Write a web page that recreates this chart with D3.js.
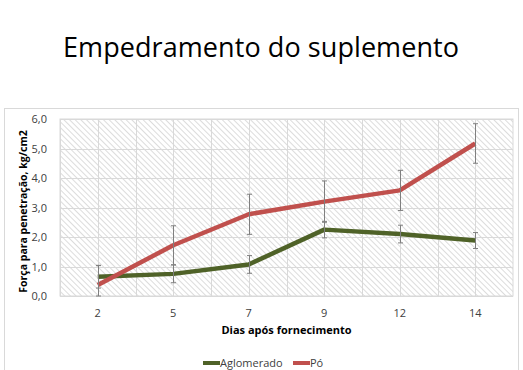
<!DOCTYPE html>
<html>
<head>
<meta charset="utf-8">
<script src="https://cdn.jsdelivr.net/npm/d3@7"></script>
<style>
  body { margin: 0; background: #fff; }
  svg { display: block; font-family: 'Open Sans', 'Noto Sans', sans-serif; }
</style>
</head>
<body>
<svg id="chart" width="523" height="370"></svg>
<script>
const days = ['2', '5', '7', '9', '12', '14'];
const aglomerado = [0.65, 0.75, 1.07, 2.25, 2.1, 1.88];
const aglomeradoErr = [0.38, 0.3, 0.3, 0.28, 0.3, 0.27];
const po = [0.37, 1.72, 2.77, 3.2, 3.58, 5.17];
const poErr = [0.67, 0.66, 0.68, 0.7, 0.68, 0.67];
const yTicks = [0, 1, 2, 3, 4, 5, 6];

const series = [
  { name: 'Aglomerado', values: aglomerado, err: aglomeradoErr, color: '#4f6228' },
  { name: 'Pó', values: po, err: poErr, color: '#c0504d' },
];

const svg = d3.select('#chart');
const W = 523, H = 370;
const m = { left: 60, right: 10, top: 119, bottom: 74 };

// moldura do gráfico
svg.append('rect')
  .attr('x', 4.5).attr('y', 108.5).attr('width', 514).attr('height', 280)
  .attr('fill', 'none').attr('stroke', '#d9d9d9');

svg.append('text')
  .attr('x', 261).attr('y', 57)
  .attr('text-anchor', 'middle')
  .attr('font-size', 27)
  .attr('textLength', 396)
  .attr('fill', '#000')
  .text('Empedramento  do suplemento');

const x = d3.scaleBand().domain(days).range([m.left, W - m.right]);
const y = d3.scaleLinear().domain([0, 6]).range([H - m.bottom, m.top]);

const defs = svg.append('defs');
const pat = defs.append('pattern')
  .attr('id', 'hatch')
  .attr('patternUnits', 'userSpaceOnUse')
  .attr('width', 4).attr('height', 4)
  .attr('patternTransform', 'rotate(-45)');
pat.append('rect').attr('width', 4).attr('height', 4).attr('fill', '#fff');
pat.append('line').attr('x1', 0).attr('y1', 0).attr('x2', 0).attr('y2', 4)
  .attr('stroke', '#d4d4d4').attr('stroke-width', 1.6);

svg.append('rect')
  .attr('x', m.left).attr('y', m.top)
  .attr('width', W - m.right - m.left).attr('height', y(0) - m.top)
  .attr('fill', 'url(#hatch)')
  .attr('stroke', '#d9d9d9');

// grades
const grid = svg.append('g').attr('stroke', '#d9d9d9').attr('stroke-width', 1);
grid.selectAll('line.h').data(yTicks).join('line')
  .attr('x1', m.left).attr('x2', W - m.right)
  .attr('y1', d => Math.round(y(d)) + 0.5).attr('y2', d => Math.round(y(d)) + 0.5);
const vx = [];
days.forEach(d => { vx.push(x(d)); vx.push(x(d) + x.bandwidth() / 2); });
grid.selectAll('line.v').data(vx).join('line')
  .attr('y1', m.top).attr('y2', y(0))
  .attr('x1', d => Math.round(d) + 0.5).attr('x2', d => Math.round(d) + 0.5);

// eixos
const yAxis = svg.append('g')
  .attr('transform', `translate(${m.left - 10},0)`)
  .call(d3.axisLeft(y).tickValues(yTicks).tickSize(0).tickFormat(d => d3.format('.1f')(d).replace('.', ',')));
yAxis.select('.domain').remove();
yAxis.selectAll('text').attr('font-size', 11).attr('fill', '#404040').attr('font-family', "'Open Sans', sans-serif");

const xAxis = svg.append('g')
  .attr('transform', `translate(0,${y(0) + 10})`)
  .call(d3.axisBottom(x).tickSize(0));
xAxis.select('.domain').remove();
xAxis.selectAll('text').attr('font-size', 11).attr('fill', '#404040').attr('font-family', "'Open Sans', sans-serif");

svg.append('text')
  .attr('x', (m.left + W - m.right) / 2).attr('y', 334)
  .attr('text-anchor', 'middle').attr('font-size', 11).attr('font-weight', 'bold')
  .attr('fill', '#000')
  .text('Dias após fornecimento');

svg.append('text')
  .attr('transform', `translate(27,${(m.top + y(0)) / 2 + 4}) rotate(-90)`)
  .attr('text-anchor', 'middle').attr('font-size', 10.5).attr('font-weight', 'bold')
  .attr('fill', '#000')
  .text('Força para penetração, kg/cm2');

// linhas
const cx = d => x(d) + x.bandwidth() / 2;
const line = d3.line().x((v, i) => cx(days[i])).y(v => y(v));

series.forEach(s => {
  svg.append('path')
    .attr('d', line(s.values))
    .attr('fill', 'none')
    .attr('stroke', s.color)
    .attr('stroke-width', 4.5)
    .attr('stroke-linejoin', 'round');
});

// barras de erro
series.forEach(s => {
  const g = svg.append('g').attr('stroke', '#7f7f7f').attr('stroke-width', 1);
  s.values.forEach((v, i) => {
    const px = Math.round(cx(days[i])) + 0.5;
    const lo = y(Math.max(0, v - s.err[i]));
    const hi = y(v + s.err[i]);
    g.append('line').attr('x1', px).attr('x2', px).attr('y1', lo).attr('y2', hi);
    g.append('line').attr('x1', px - 2.5).attr('x2', px + 2.5).attr('y1', lo).attr('y2', lo);
    g.append('line').attr('x1', px - 2.5).attr('x2', px + 2.5).attr('y1', hi).attr('y2', hi);
  });
});

// legenda
const legend = svg.append('g').attr('transform', 'translate(203,363)');
const lx = [0, 90];
series.forEach((s, i) => {
  const g = legend.append('g').attr('transform', `translate(${lx[i]},0)`);
  g.append('line').attr('x1', 0).attr('x2', 17).attr('y1', 0).attr('y2', 0)
    .attr('stroke', s.color).attr('stroke-width', 4);
  g.append('text').attr('x', 17).attr('y', 4).attr('font-size', 11).attr('fill', '#404040')
    .text(s.name);
});
</script>
</body>
</html>
